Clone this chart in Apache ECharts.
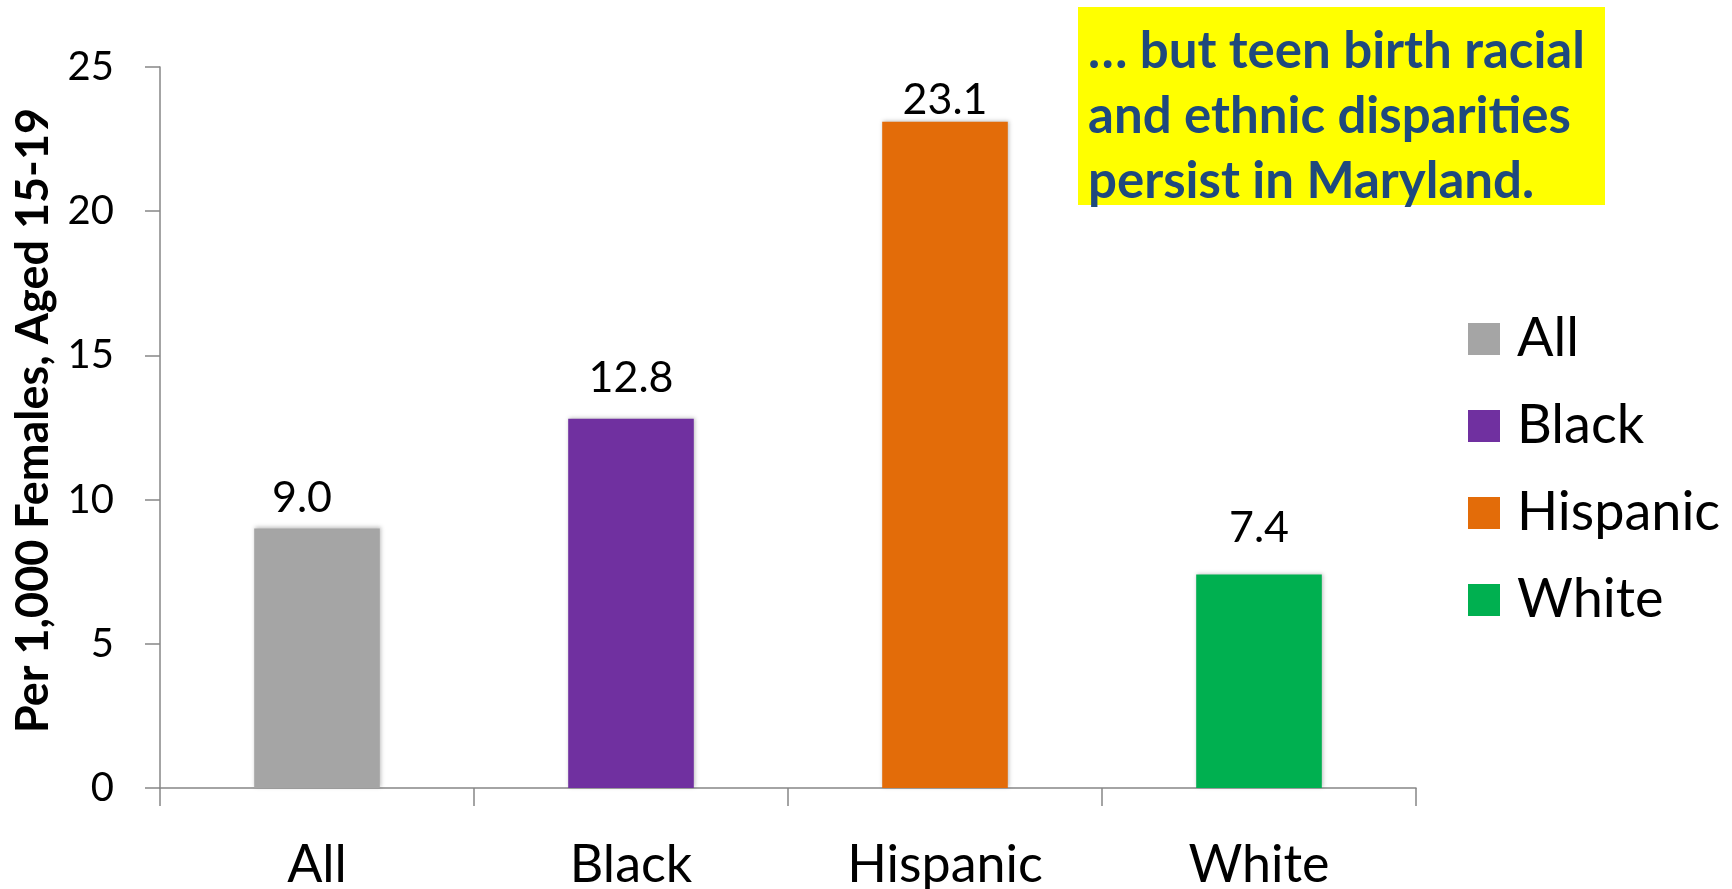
<!DOCTYPE html>
<html>
<head>
<meta charset="utf-8">
<script src="https://cdn.jsdelivr.net/npm/echarts@6/dist/echarts.min.js"></script>
<style>
  html, body { margin: 0; padding: 0; background: #fff; }
  #chart { width: 1732px; height: 889px; }
</style>
</head>
<body>
<div id="chart"></div>
<script>
// teen birth rate by race/ethnicity, Maryland
var categories = ['All', 'Black', 'Hispanic', 'White'];
var rates = [9.0, 12.8, 23.1, 7.4];
var barColors = ['#A5A5A5', '#7030A0', '#E36C09', '#00B050'];
var yTicks = { min: 0, max: 25, interval: 5 };
var note = '… but teen birth racial\nand ethnic disparities\npersist in Maryland.';

// value labels were nudged by hand in the original: [dx, distance above bar]
var labelNudge = [[-15, 9], [0, 19], [0, 0], [0, 25]];

var FONT = 'Lato, "Open Sans", sans-serif';

// one series per category so the legend shows each colour; bars overlap via barGap
var series = categories.map(function (name, i) {
    return {
        name: name,
        type: 'bar',
        barWidth: '40%',
        barGap: '-100%',
        itemStyle: {
            color: barColors[i],
            shadowColor: 'rgba(0,0,0,0.25)',
            shadowBlur: 4,
            shadowOffsetX: 1,
            shadowOffsetY: -1
        },
        label: {
            show: true,
            position: 'top',
            distance: labelNudge[i][1],
            offset: [labelNudge[i][0], 0],
            color: '#000',
            fontFamily: FONT,
            fontSize: 43,
            formatter: function (p) { return p.value.toFixed(1); }
        },
        data: categories.map(function (c, j) { return j === i ? rates[i] : '-'; })
    };
});

var chart = echarts.init(document.getElementById('chart'));
chart.setOption({
    animation: false,
    grid: { left: 160, right: 316, top: 67, bottom: 101, containLabel: false, outerBoundsMode: 'none' },
    legend: {
        orient: 'vertical',
        left: 1463,
        top: 307,
        itemWidth: 32,
        itemHeight: 32,
        itemGap: 33,
        icon: 'rect',
        data: categories,
        textStyle: {
            fontFamily: FONT,
            fontSize: 54,
            lineHeight: 54,
            color: '#000',
            padding: [0, 0, 0, 12]
        }
    },
    xAxis: {
        type: 'category',
        data: categories,
        axisLine: { lineStyle: { color: '#868686', width: 1.5 } },
        axisTick: { show: true, length: 18, lineStyle: { color: '#868686', width: 1.5 } },
        axisLabel: { color: '#000', fontFamily: FONT, fontSize: 52, margin: 51 }
    },
    yAxis: {
        type: 'value',
        min: yTicks.min,
        max: yTicks.max,
        interval: yTicks.interval,
        name: 'Per 1,000 Females, Aged 15-19',
        nameLocation: 'middle',
        nameGap: 104,
        nameTextStyle: {
            color: '#000', fontFamily: FONT, fontWeight: 'bold', fontSize: 45,
            padding: [0, 0, 0, 14]
        },
        axisLine: { show: true, lineStyle: { color: '#868686', width: 1.5 } },
        axisTick: { show: true, length: 15, lineStyle: { color: '#868686', width: 1.5 } },
        splitLine: { show: false },
        axisLabel: { color: '#000', fontFamily: FONT, fontSize: 40, margin: 46 }
    },
    graphic: [{
        type: 'group',
        left: 1078,
        top: 7,
        children: [{
            type: 'rect',
            shape: { x: 0, y: 0, width: 527, height: 198 },
            style: { fill: '#FFFF00' }
        }, {
            type: 'text',
            x: 10,
            y: 12,
            style: {
                text: note,
                fill: '#1F497D',
                font: 'bold 51px ' + FONT,
                lineHeight: 65
            }
        }]
    }],
    series: series
});
</script>
</body>
</html>
